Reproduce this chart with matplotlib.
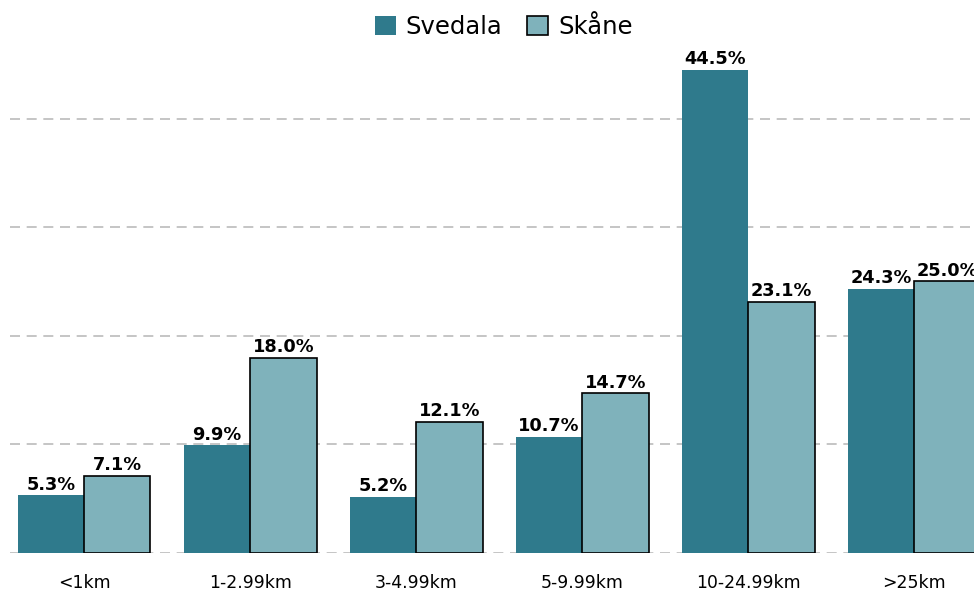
import numpy as np
import matplotlib.pyplot as plt

plt.rcParams['font.family'] = ['DejaVu Sans']

# Data
categories = ['<1km', '1-2.99km', '3-4.99km', '5-9.99km', '10-24.99km', '>25km']
svedala = [5.3, 9.9, 5.2, 10.7, 44.5, 24.3]
skane = [7.1, 18.0, 12.1, 14.7, 23.1, 25.0]

c_sved = '#2f7a8c'
c_skane = '#7fb2bb'

fig = plt.figure(figsize=(9.74, 5.91), dpi=100)
ax = fig.add_axes([10/974, 38/591, 964/974, 505/591])

x = np.arange(len(categories))
w = 0.4
b1 = ax.bar(x - w/2, svedala, w, color=c_sved, edgecolor='none', label='Svedala', zorder=3)
b2 = ax.bar(x + w/2, skane, w, color=c_skane, edgecolor='black', linewidth=1.2,
            label='Skåne', zorder=3)

for bars, vals in [(b1, svedala), (b2, skane)]:
    for r, v in zip(bars, vals):
        ax.text(r.get_x() + r.get_width()/2, v + 0.15, f'{v:.1f}%',
                ha='center', va='bottom', fontsize=12.8, fontweight='bold', zorder=4)

ax.set_xlim(-0.446, 5.36)
ax.set_ylim(0, 46.5)
ax.set_yticks([0, 10, 20, 30, 40])
ax.set_yticklabels([])
ax.tick_params(axis='y', length=0)
ax.set_xticks(x)
ax.set_xticklabels(categories, fontsize=12.4)
ax.tick_params(axis='x', length=0, pad=15)
ax.grid(axis='y', color='#bbbbbb', linestyle=(0, (6, 4)), linewidth=1.2, zorder=0)
for s in ax.spines.values():
    s.set_visible(False)

fig.legend(handles=[b1, b2], loc='center', bbox_to_anchor=(0.517, 0.955), ncol=2,
           frameon=False, fontsize=17.5, handlelength=0.86, handleheight=0.82,
           handletextpad=0.42, columnspacing=1.0)

fig.savefig('out.png', dpi=100)
